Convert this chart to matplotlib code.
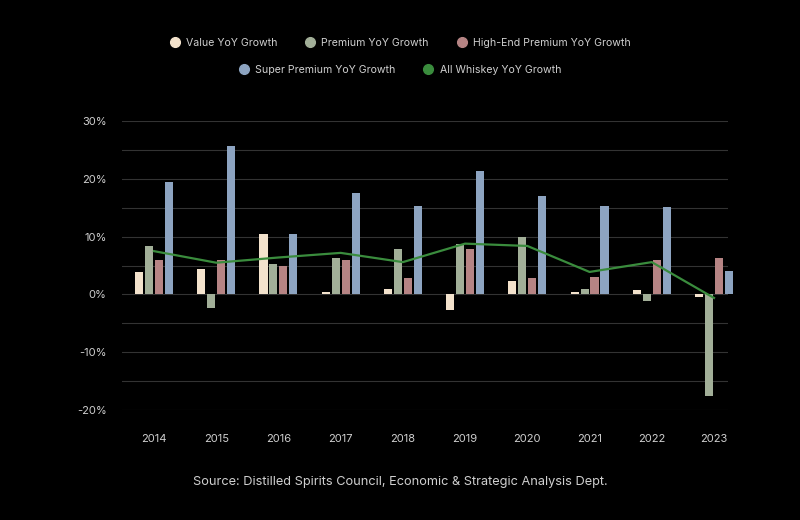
import numpy as np
import matplotlib
matplotlib.use('Agg')
import matplotlib.pyplot as plt
from matplotlib.lines import Line2D

years = ['2014', '2015', '2016', '2017', '2018', '2019', '2020', '2021', '2022', '2023']
value_growth = [3.9, 4.4, 10.5, 0.5, 1.0, -2.7, 2.4, 0.5, 0.7, -0.4]
premium_growth = [8.4, -2.3, 5.3, 6.4, 7.8, 8.7, 9.9, 1.0, -1.2, -17.5]
high_end_growth = [5.9, 6.0, 5.0, 5.9, 2.8, 7.8, 2.8, 3.1, 5.9, 6.4]
super_growth = [19.4, 25.7, 10.5, 17.6, 15.3, 21.4, 17.1, 15.3, 15.2, 4.0]
all_whiskey_growth = [7.5, 5.5, 6.4, 7.2, 5.6, 8.8, 8.4, 3.9, 5.6, -0.6]

series_names = ['Value YoY Growth', 'Premium YoY Growth', 'High-End Premium YoY Growth',
                'Super Premium YoY Growth']
colors = ['#f3e2cc', '#a2af98', '#b68484', '#8da4c1']
line_color = '#3a8c3d'
text_color = '#cfcfcf'

plt.rcParams['font.family'] = ['Inter', 'DejaVu Sans']

fig = plt.figure(figsize=(8, 5.2), dpi=100, facecolor='black')
ax = fig.add_axes([0.1525, 0.2115, 0.7575, 0.5555])
ax.set_facecolor('black')

x = np.arange(len(years))
offsets = [-0.24, -0.08, 0.08, 0.24]
data = [value_growth, premium_growth, high_end_growth, super_growth]
for vals, off, c in zip(data, offsets, colors):
    ax.bar(x + off, vals, width=0.13, color=c, zorder=2, clip_on=False)

ax.plot(x, all_whiskey_growth, color=line_color, lw=1.6, zorder=3, clip_on=False)

ax.set_xlim(-0.514, 9.225)
ax.set_ylim(-20, 30)
ax.set_yticks(np.arange(-20, 31, 5))
ax.set_yticklabels([f'{v}%' if v % 10 == 0 else '' for v in range(-20, 31, 5)])
ax.set_xticks(x)
ax.set_xticklabels(years)
ax.grid(axis='y', color='#333333', lw=0.8, zorder=0)
ax.tick_params(axis='both', length=0, colors=text_color, labelsize=8)
ax.tick_params(axis='x', pad=17)
ax.tick_params(axis='y', pad=11)
for s in ax.spines.values():
    s.set_visible(False)

def handle(c):
    return Line2D([], [], marker='o', ls='', markersize=7, markerfacecolor=c, markeredgecolor=c)

leg_kw = dict(loc='center', frameon=False, fontsize=7.6, labelcolor=text_color,
              handlelength=1.0, handletextpad=0.55, columnspacing=2.6)
fig.legend([handle(c) for c in colors[:3]], series_names[:3],
           bbox_to_anchor=(0.5, 1 - 43 / 520), ncol=3, **leg_kw)
fig.legend([handle(colors[3]), handle(line_color)],
           [series_names[3], 'All Whiskey YoY Growth'],
           bbox_to_anchor=(0.5, 1 - 70 / 520), ncol=2, **leg_kw)

fig.text(0.5, 1 - 482 / 520, 'Source: Distilled Spirits Council, Economic & Strategic Analysis Dept.',
         ha='center', va='center', color=text_color, fontsize=9.2)

fig.savefig('out.png', dpi=100, facecolor='black')
